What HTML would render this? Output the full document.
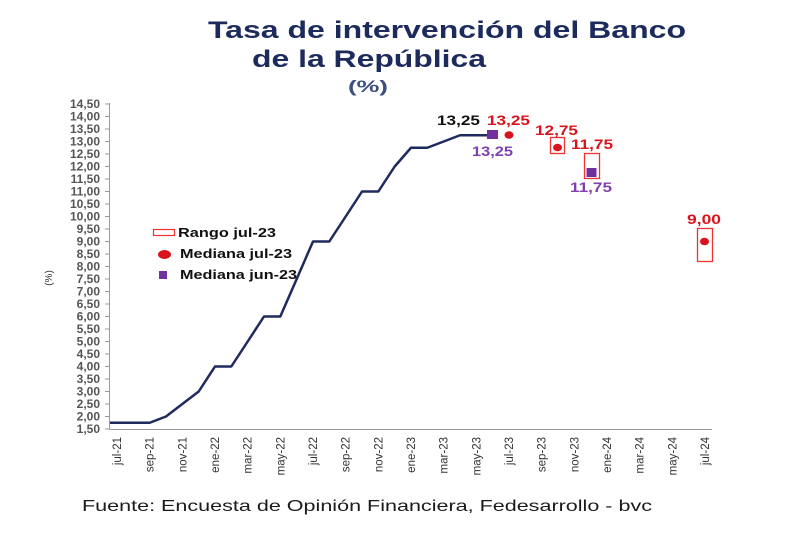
<!DOCTYPE html>
<html><head><meta charset="utf-8"><style>
html,body{margin:0;padding:0;background:#fff;}
svg{display:block;}
text{font-family:"Liberation Sans",Arial,sans-serif;}
</style></head><body>
<svg width="800" height="533" viewBox="0 0 800 533" xmlns="http://www.w3.org/2000/svg">
<rect width="800" height="533" fill="#fff"/>
<!-- Title -->
<text x="208" y="38" font-size="24" font-weight="bold" fill="#1c2a5c" textLength="478" lengthAdjust="spacingAndGlyphs">Tasa de intervención del Banco</text>
<text x="252" y="67" font-size="24" font-weight="bold" fill="#1c2a5c" textLength="234" lengthAdjust="spacingAndGlyphs">de la República</text>
<text x="348" y="92" font-size="17" font-weight="bold" fill="#3d4f80" textLength="40" lengthAdjust="spacingAndGlyphs">(%)</text>

<!-- Axes -->
<line x1="109.5" y1="103" x2="109.5" y2="429.5" stroke="#999" stroke-width="1"/>
<line x1="109.5" y1="429.5" x2="712" y2="429.5" stroke="#999" stroke-width="1"/>
<g stroke="#999" stroke-width="1">
<line x1="105" y1="104" x2="109.5" y2="104"/><line x1="105" y1="116.5" x2="109.5" y2="116.5"/><line x1="105" y1="129" x2="109.5" y2="129"/><line x1="105" y1="141.5" x2="109.5" y2="141.5"/><line x1="105" y1="154" x2="109.5" y2="154"/><line x1="105" y1="166.5" x2="109.5" y2="166.5"/><line x1="105" y1="179" x2="109.5" y2="179"/><line x1="105" y1="191.5" x2="109.5" y2="191.5"/><line x1="105" y1="204" x2="109.5" y2="204"/><line x1="105" y1="216.5" x2="109.5" y2="216.5"/><line x1="105" y1="229" x2="109.5" y2="229"/><line x1="105" y1="241.5" x2="109.5" y2="241.5"/><line x1="105" y1="254" x2="109.5" y2="254"/><line x1="105" y1="266.5" x2="109.5" y2="266.5"/><line x1="105" y1="279" x2="109.5" y2="279"/><line x1="105" y1="291.5" x2="109.5" y2="291.5"/><line x1="105" y1="304" x2="109.5" y2="304"/><line x1="105" y1="316.5" x2="109.5" y2="316.5"/><line x1="105" y1="329" x2="109.5" y2="329"/><line x1="105" y1="341.5" x2="109.5" y2="341.5"/><line x1="105" y1="354" x2="109.5" y2="354"/><line x1="105" y1="366.5" x2="109.5" y2="366.5"/><line x1="105" y1="379" x2="109.5" y2="379"/><line x1="105" y1="391.5" x2="109.5" y2="391.5"/><line x1="105" y1="404" x2="109.5" y2="404"/><line x1="105" y1="416.5" x2="109.5" y2="416.5"/><line x1="105" y1="429" x2="109.5" y2="429"/>
</g>
<g font-size="12" font-weight="bold" fill="#555" text-anchor="end">
<text x="100" y="108">14,50</text><text x="100" y="120.5">14,00</text><text x="100" y="133">13,50</text><text x="100" y="145.5">13,00</text><text x="100" y="158">12,50</text><text x="100" y="170.5">12,00</text><text x="100" y="183">11,50</text><text x="100" y="195.5">11,00</text><text x="100" y="208">10,50</text><text x="100" y="220.5">10,00</text><text x="100" y="233">9,50</text><text x="100" y="245.5">9,00</text><text x="100" y="258">8,50</text><text x="100" y="270.5">8,00</text><text x="100" y="283">7,50</text><text x="100" y="295.5">7,00</text><text x="100" y="308">6,50</text><text x="100" y="320.5">6,00</text><text x="100" y="333">5,50</text><text x="100" y="345.5">5,00</text><text x="100" y="358">4,50</text><text x="100" y="370.5">4,00</text><text x="100" y="383">3,50</text><text x="100" y="395.5">3,00</text><text x="100" y="408">2,50</text><text x="100" y="420.5">2,00</text><text x="100" y="433">1,50</text>
</g>
<text transform="translate(52,278) rotate(-90)" font-size="10" fill="#333" text-anchor="middle">(%)</text>

<!-- X labels -->
<g font-size="11.5" fill="#333" text-anchor="end">
<text transform="translate(121,437) rotate(-90)">jul-21</text>
<text transform="translate(153.7,437) rotate(-90)">sep-21</text>
<text transform="translate(186.3,437) rotate(-90)">nov-21</text>
<text transform="translate(219,437) rotate(-90)">ene-22</text>
<text transform="translate(251.7,437) rotate(-90)">mar-22</text>
<text transform="translate(284.3,437) rotate(-90)">may-22</text>
<text transform="translate(317,437) rotate(-90)">jul-22</text>
<text transform="translate(349.7,437) rotate(-90)">sep-22</text>
<text transform="translate(382.3,437) rotate(-90)">nov-22</text>
<text transform="translate(415,437) rotate(-90)">ene-23</text>
<text transform="translate(447.7,437) rotate(-90)">mar-23</text>
<text transform="translate(480.3,437) rotate(-90)">may-23</text>
<text transform="translate(513,437) rotate(-90)">jul-23</text>
<text transform="translate(545.7,437) rotate(-90)">sep-23</text>
<text transform="translate(578.3,437) rotate(-90)">nov-23</text>
<text transform="translate(611,437) rotate(-90)">ene-24</text>
<text transform="translate(643.7,437) rotate(-90)">mar-24</text>
<text transform="translate(676.3,437) rotate(-90)">may-24</text>
<text transform="translate(709,437) rotate(-90)">jul-24</text>
</g>

<!-- Series line -->
<polyline fill="none" stroke="#1f2a5e" stroke-width="2.5" stroke-linejoin="round" points="110,422.75 117,422.75 133.3,422.75 149.7,422.75 166,416.5 182.3,404 198.7,391.5 215,366.5 231.3,366.5 247.7,341.5 264,316.5 280.3,316.5 296.7,279 313,241.5 329.3,241.5 345.7,216.5 362,191.5 378.3,191.5 394.7,166.5 411,147.75 427.3,147.75 443.7,141.5 460,135.25 476.3,135.25 490,135.25"/>

<!-- Range boxes -->
<rect x="550.5" y="137.5" width="14" height="16" fill="none" stroke="#ee3333" stroke-width="1.3"/>
<rect x="584.5" y="153.5" width="15" height="25" fill="none" stroke="#ee3333" stroke-width="1.3"/>
<rect x="697.5" y="228.5" width="15" height="33" fill="none" stroke="#ee3333" stroke-width="1.3"/>

<!-- Medians -->
<ellipse cx="509" cy="135" rx="4.5" ry="3.8" fill="#d9131b"/>
<ellipse cx="557.5" cy="147.5" rx="4.5" ry="3.8" fill="#d9131b"/>
<ellipse cx="704.5" cy="241.5" rx="4.5" ry="3.8" fill="#d9131b"/>
<rect x="487" y="130" width="11" height="9" fill="#7030a0"/>
<rect x="586.5" y="168" width="10" height="9" fill="#7030a0"/>

<!-- Data labels -->
<g font-size="14" font-weight="bold">
<text x="437" y="125" fill="#111" textLength="43" lengthAdjust="spacingAndGlyphs">13,25</text>
<text x="487" y="125" fill="#d9131b" textLength="43" lengthAdjust="spacingAndGlyphs">13,25</text>
<text x="472" y="156" fill="#7f3fb0" textLength="41" lengthAdjust="spacingAndGlyphs">13,25</text>
<text x="535" y="135" fill="#d9131b" textLength="43" lengthAdjust="spacingAndGlyphs">12,75</text>
<text x="571" y="149" fill="#d9131b" textLength="42" lengthAdjust="spacingAndGlyphs">11,75</text>
<text x="570" y="192" fill="#7f3fb0" textLength="42" lengthAdjust="spacingAndGlyphs">11,75</text>
<text x="687" y="224" fill="#d9131b" textLength="34" lengthAdjust="spacingAndGlyphs">9,00</text>
</g>

<!-- Legend -->
<rect x="153.5" y="229.5" width="21" height="6" fill="#fff" stroke="#ee3333" stroke-width="1.2"/>
<text x="178" y="237" font-size="12.5" font-weight="bold" fill="#111" textLength="98" lengthAdjust="spacingAndGlyphs">Rango jul-23</text>
<ellipse cx="164.5" cy="254.5" rx="6.5" ry="4.5" fill="#d9131b"/>
<text x="180" y="258" font-size="12.5" font-weight="bold" fill="#111" textLength="112" lengthAdjust="spacingAndGlyphs">Mediana jul-23</text>
<rect x="159" y="271" width="8" height="8" fill="#7030a0"/>
<text x="180" y="279" font-size="12.5" font-weight="bold" fill="#111" textLength="117" lengthAdjust="spacingAndGlyphs">Mediana jun-23</text>

<!-- Footer -->
<text x="82" y="511" font-size="16" fill="#1a1a1a" textLength="570" lengthAdjust="spacingAndGlyphs">Fuente: Encuesta de Opinión Financiera, Fedesarrollo - bvc</text>
</svg>
</body></html>
